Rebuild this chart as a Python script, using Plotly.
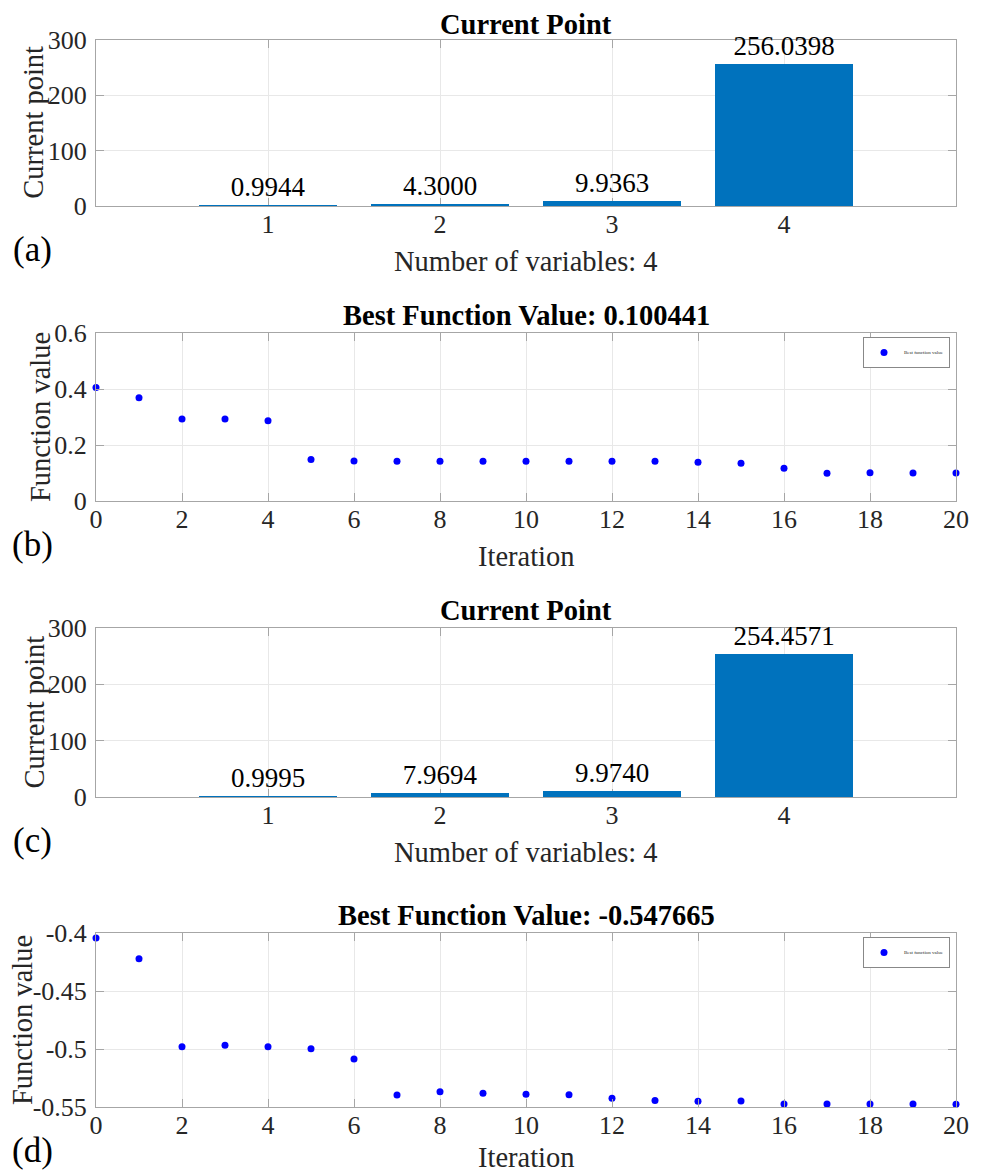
import plotly.graph_objects as go

# ---------------- data ----------------
variables = [1, 2, 3, 4]
current_point_a = [0.9944, 4.3000, 9.9363, 256.0398]
current_point_c = [0.9995, 7.9694, 9.9740, 254.4571]

iterations = list(range(21))
best_value_b = [0.405, 0.369, 0.293, 0.293, 0.287, 0.148, 0.143, 0.142, 0.142, 0.142,
                0.142, 0.142, 0.142, 0.142, 0.138, 0.135, 0.117, 0.099, 0.101, 0.100, 0.100441]
best_value_d = [-0.4043, -0.4221, -0.498, -0.4968, -0.498, -0.4997, -0.5086, -0.5397, -0.5368, -0.5382,
                -0.5391, -0.5394, -0.5425, -0.5443, -0.5451, -0.5448, -0.5474, -0.5474, -0.5474, -0.5474, -0.547665]

y_ticks_d = [-0.55, -0.5, -0.45, -0.4]
y_ticktext_d = ["-0.55", "-0.5", "-0.45", "-0.4"]

OFF = 8  # page body margin
W, H = 983 - OFF, 1174 - OFF
FONT = "Liberation Serif"
TXT = "#262626"
AX = "#a6a6a6"
GRID = "#e8e8e8"
BAR = "#0072BD"
TICK_FS = 26
LAB_FS = 28.5
TITLE_FS = 28.5


def py(p):
    return 1 - (p - OFF) / H


def px(p):
    return (p - OFF) / W


XL, XR = 96, 956
panels = {  # top, bottom in page pixels
    "a": (39.5, 206),
    "b": (333, 501),
    "c": (628, 797),
    "d": (933, 1107),
}

fig = go.Figure()

# bars
for val, ax in [(current_point_a, ""), (current_point_c, "3")]:
    fig.add_trace(go.Bar(
        x=variables, y=val, width=0.8, marker=dict(color=BAR, line=dict(width=0)),
        texttemplate="%{y:.4f}", textposition="outside", cliponaxis=False,
        constraintext="none",
        textfont=dict(family=FONT, size=27, color="black"),
        xaxis="x" + ax, yaxis="y" + ax, showlegend=False))

fig.add_trace(go.Scatter(
    x=iterations, y=best_value_b, mode="markers", name="Best function value",
    marker=dict(color="#0000ff", size=7), cliponaxis=False,
    xaxis="x2", yaxis="y2", legend="legend"))
fig.add_trace(go.Scatter(
    x=iterations, y=best_value_d, mode="markers", name="Best function value",
    marker=dict(color="#0000ff", size=7), cliponaxis=False,
    xaxis="x4", yaxis="y4", legend="legend2"))


def axis_common():
    return dict(
        showline=True, linecolor=AX, linewidth=1, mirror="ticks",
        ticks="inside", ticklen=8, tickcolor=AX, tickwidth=1,
        showgrid=True, gridcolor=GRID, gridwidth=1, zeroline=False,
        automargin=False,
        tickfont=dict(family=FONT, size=TICK_FS, color=TXT),
    )


xdom = [px(XL), px(XR)]
layout = dict(
    width=W, height=H, autosize=False,
    margin=dict(l=0, r=0, t=0, b=0, autoexpand=False),
    paper_bgcolor="white", plot_bgcolor="white",
    bargap=0,
)
names = ["a", "b", "c", "d"]
for i, n in enumerate(names, start=1):
    top, bot = panels[n]
    sfx = "" if i == 1 else str(i)
    xa = axis_common()
    ya = axis_common()
    xa.update(domain=xdom, anchor="y" + sfx, ticklabelstandoff=-5)
    ya.update(domain=[py(bot), py(top)], anchor="x" + sfx, ticklabelstandoff=3)
    if n in ("a", "c"):
        xa.update(range=[0, 5], tickvals=variables, layer="below traces")
        ya.update(range=[0, 300], tickvals=[0, 100, 200, 300], layer="below traces")
    elif n == "b":
        xa.update(range=[0, 20], dtick=2, tick0=0)
        ya.update(range=[0, 0.6], tickvals=[0, 0.2, 0.4, 0.6])
    else:
        xa.update(range=[0, 20], dtick=2, tick0=0)
        ya.update(range=[-0.55, -0.4], tickvals=y_ticks_d, ticktext=y_ticktext_d)
    layout["xaxis" + sfx] = xa
    layout["yaxis" + sfx] = ya

fig.update_layout(**layout)

legend_style = dict(
    font=dict(family=FONT, size=5, color=TXT), bgcolor="white",
    bordercolor="#888888", borderwidth=1, xanchor="right", yanchor="top",
    itemwidth=30, tracegroupgap=0,
)
fig.update_layout(
    legend=dict(x=px(950), y=py(337), **legend_style),
    legend2=dict(x=px(950), y=py(937), **legend_style),
)

ann = []
titles = {"a": "Current Point", "b": "Best Function Value: 0.100441",
          "c": "Current Point", "d": "Best Function Value: -0.547665"}
xtitles = {"a": "Number of variables: 4", "b": "Iteration",
           "c": "Number of variables: 4", "d": "Iteration"}
ytitles = {"a": ("Current point", 34), "b": ("Function value", 41),
           "c": ("Current point", 34), "d": ("Function value", 22)}
xlab_off = {"a": 55, "b": 55, "c": 55, "d": 50}
title_off = {"a": 15, "b": 18, "c": 18, "d": 18}
xc = px((XL + XR) / 2)
for n in names:
    top, bot = panels[n]
    ann.append(dict(text="<b>" + titles[n] + "</b>", x=xc, y=py(top - title_off[n]), xref="paper",
                    yref="paper", xanchor="center", yanchor="middle", showarrow=False, borderpad=0,
                    font=dict(family=FONT, size=TITLE_FS, color="black")))
    ann.append(dict(text=xtitles[n], x=xc, y=py(bot + xlab_off[n]), xref="paper", yref="paper",
                    xanchor="center", yanchor="middle", showarrow=False,
                    font=dict(family=FONT, size=LAB_FS, color=TXT)))
    yt, yx = ytitles[n]
    ann.append(dict(text=yt, x=px(yx), y=py((top + bot) / 2), xref="paper", yref="paper",
                    xanchor="center", yanchor="middle", textangle=-90, showarrow=False,
                    font=dict(family=FONT, size=LAB_FS, color=TXT)))
    ann.append(dict(text="(" + n + ")", x=px(32), y=py(bot + 43), xref="paper", yref="paper",
                    xanchor="center", yanchor="middle", showarrow=False,
                    font=dict(family=FONT, size=35, color="black")))
fig.update_layout(annotations=ann)

fig.write_html("out.html")
